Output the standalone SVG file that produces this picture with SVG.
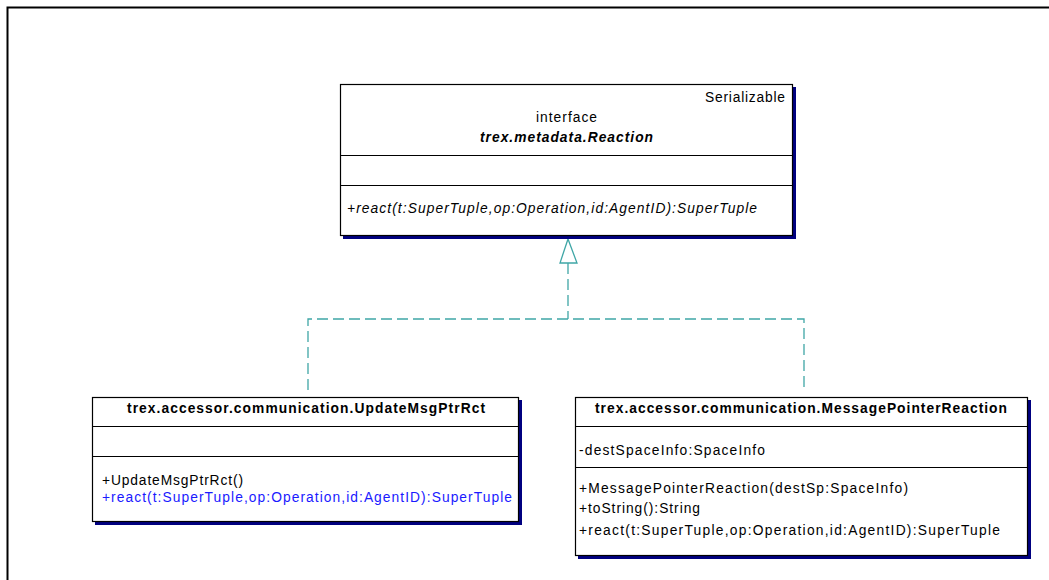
<svg xmlns="http://www.w3.org/2000/svg" width="1049" height="580" viewBox="0 0 1049 580">
  <style>
    text { font-family: "Liberation Sans", Arial, sans-serif; font-size: 13.8px; fill: #000; }
    .box { fill: #fff; stroke: #000; stroke-width: 1.2; }
    .shadow { fill: #000080; }
    .sep { stroke: #000; stroke-width: 1; }
    .title { font-weight: bold; }
    .ital { font-style: italic; }
    .inherited { fill: #1a1aff; }
    .dep { fill: none; stroke: #3fa6a6; stroke-width: 1.3; stroke-dasharray: 11 5; }
    .head { fill: #fff; stroke: #3fa6a6; stroke-width: 1.3; }
  </style>

  <rect x="0" y="0" width="1049" height="580" fill="#fff"/>
  <!-- drawing frame -->
  <path d="M7.5,590 V7.5 H1060" fill="none" stroke="#000" stroke-width="2"/>

  <!-- realization connectors -->
  <g id="connectors">
    <path class="dep" d="M568,263 V319"/>
    <path class="dep" d="M308,390 V319 H804 V390"/>
    <polygon class="head" points="568,239 560,263 577,263"/>
  </g>

  <!-- interface trex.metadata.Reaction -->
  <g id="reaction">
    <rect class="shadow" x="343" y="87" width="453" height="152"/>
    <rect class="box" x="340.5" y="84.5" width="452" height="151"/>
    <line class="sep" x1="340.5" y1="155.5" x2="792.5" y2="155.5"/>
    <line class="sep" x1="340.5" y1="185.5" x2="792.5" y2="185.5"/>
    <text x="705" y="102" textLength="80" lengthAdjust="spacing">Serializable</text>
    <text x="536" y="122" textLength="61" lengthAdjust="spacing">interface</text>
    <text x="480" y="142" class="title ital" textLength="173" lengthAdjust="spacing">trex.metadata.Reaction</text>
    <text x="347" y="213" class="ital" textLength="410" lengthAdjust="spacing">+react(t:SuperTuple,op:Operation,id:AgentID):SuperTuple</text>
  </g>

  <!-- class trex.accessor.communication.UpdateMsgPtrRct -->
  <g id="updateMsgPtrRct">
    <rect class="shadow" x="95" y="400" width="427" height="125"/>
    <rect class="box" x="92.5" y="397.5" width="426" height="124"/>
    <line class="sep" x1="92.5" y1="426.5" x2="518.5" y2="426.5"/>
    <line class="sep" x1="92.5" y1="456.5" x2="518.5" y2="456.5"/>
    <text x="127" y="413" class="title" textLength="358" lengthAdjust="spacing">trex.accessor.communication.UpdateMsgPtrRct</text>
    <text x="102" y="485" textLength="141" lengthAdjust="spacing">+UpdateMsgPtrRct()</text>
    <text x="102" y="502" class="inherited" textLength="410" lengthAdjust="spacing">+react(t:SuperTuple,op:Operation,id:AgentID):SuperTuple</text>
  </g>

  <!-- class trex.accessor.communication.MessagePointerReaction -->
  <g id="messagePointerReaction">
    <rect class="shadow" x="578" y="400" width="453" height="159"/>
    <rect class="box" x="575.5" y="397.5" width="452" height="158"/>
    <line class="sep" x1="575.5" y1="426.5" x2="1027.5" y2="426.5"/>
    <line class="sep" x1="575.5" y1="467.5" x2="1027.5" y2="467.5"/>
    <text x="595" y="413" class="title" textLength="412" lengthAdjust="spacing">trex.accessor.communication.MessagePointerReaction</text>
    <text x="579" y="455" textLength="186" lengthAdjust="spacing">-destSpaceInfo:SpaceInfo</text>
    <text x="579" y="493" textLength="329" lengthAdjust="spacing">+MessagePointerReaction(destSp:SpaceInfo)</text>
    <text x="579" y="513" textLength="121" lengthAdjust="spacing">+toString():String</text>
    <text x="579" y="535" textLength="421" lengthAdjust="spacing">+react(t:SuperTuple,op:Operation,id:AgentID):SuperTuple</text>
  </g>
</svg>
